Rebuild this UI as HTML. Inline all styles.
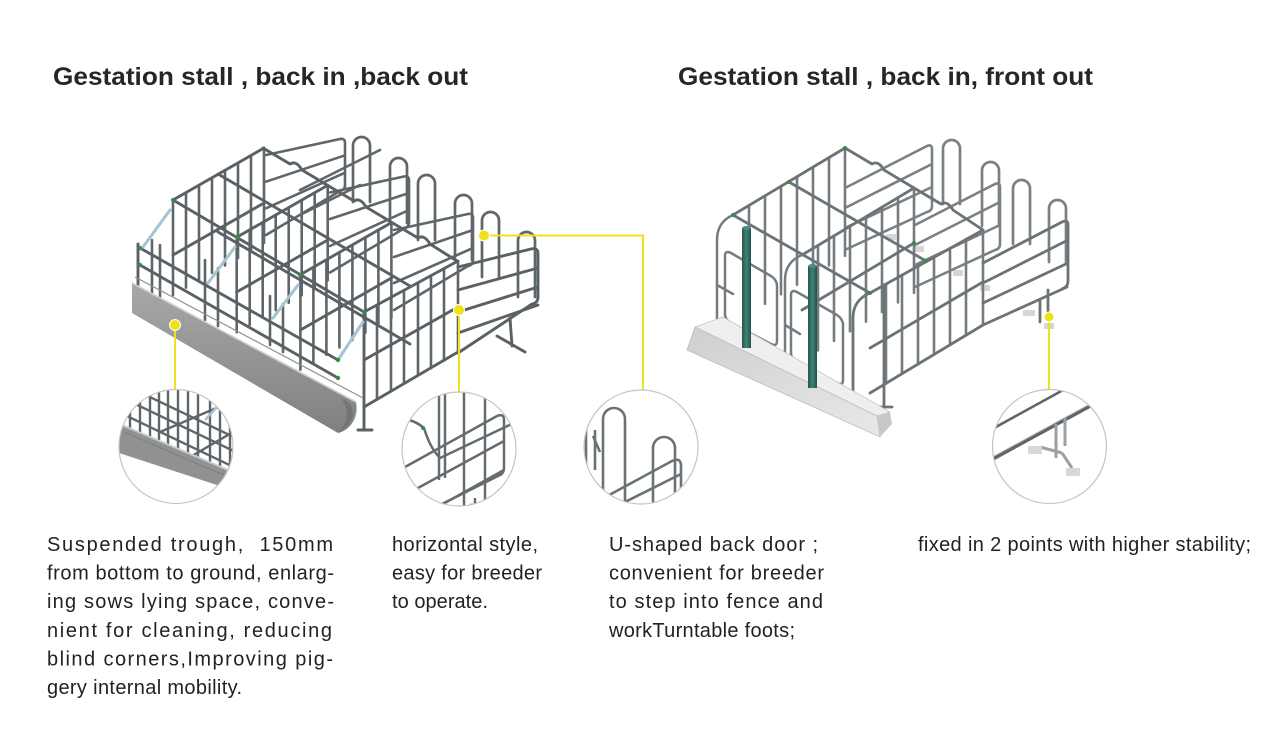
<!DOCTYPE html>
<html><head><meta charset="utf-8"><style>
html,body{margin:0;padding:0;background:#fff;}
svg{display:block;}
.t{font-family:"Liberation Sans",Arial,sans-serif;font-size:20px;fill:#222;white-space:pre;}
.h{font-family:"Liberation Sans",Arial,sans-serif;font-size:25px;font-weight:bold;fill:#262626;white-space:pre;}
</style></head><body>
<svg width="1280" height="752" viewBox="0 0 1280 752" xmlns="http://www.w3.org/2000/svg">
<defs>
<linearGradient id="tg1" x1="0" y1="0" x2="0" y2="1"><stop offset="0" stop-color="#a6a8aa"/><stop offset="1" stop-color="#7e8082"/></linearGradient>
<linearGradient id="tg2" x1="0" y1="0" x2="1" y2="1"><stop offset="0" stop-color="#cfcfcf"/><stop offset="1" stop-color="#e8e8e8"/></linearGradient>
<linearGradient id="gp" x1="0" y1="0" x2="1" y2="0"><stop offset="0" stop-color="#25564f"/><stop offset="0.5" stop-color="#3f8276"/><stop offset="1" stop-color="#23524b"/></linearGradient>
<clipPath id="c1"><circle cx="176" cy="446.5" r="57"/></clipPath>
<clipPath id="c2"><circle cx="459" cy="449" r="57"/></clipPath>
<clipPath id="c3"><circle cx="641" cy="447" r="57"/></clipPath>
<clipPath id="c4"><circle cx="1049.5" cy="446.5" r="57"/></clipPath>
</defs>
<rect width="1280" height="752" fill="#fff"/>

<!-- Titles -->
<text class="h" x="53" y="85" textLength="415" lengthAdjust="spacingAndGlyphs">Gestation stall , back in ,back out</text>
<text class="h" x="678" y="85" textLength="415" lengthAdjust="spacingAndGlyphs">Gestation stall , back in, front out</text>

<!-- ================= LEFT STALL ================= -->
<g fill="none" stroke-linecap="round" stroke-linejoin="round">
<!-- rear gates -->
<g stroke="#5f666a" stroke-width="2.6">
<path d="M266,155L340,139Q345,138 345,143V185Q345,190 340,191L266,235M266,181.7L345,155.3M266,208.3L345,172.7"/>
<path d="M330,192.5L404,176.5Q409,175.5 409,180.5V222Q409,227.5 404,228.5L330,272.5M330,219L409,193M330,246L409,210"/>
<path d="M394,230L468,214Q473,213 473,218V260Q473,265 468,266L394,310M394,257L473,230M394,283L473,248"/>
<path d="M300,190L380,150M300,215L360,185"/>
</g>
<!-- U doors -->
<g stroke="#60676b" stroke-width="2.7">
<path d="M353,202V145.5A8.5,8.5 0 0 1 370,145.5V202"/>
<path d="M390,223V166.5A8.5,8.5 0 0 1 407,166.5V223"/>
<path d="M418,240V183.5A8.5,8.5 0 0 1 435,183.5V240"/>
<path d="M455,260V203.5A8.5,8.5 0 0 1 472,203.5V260"/>
<path d="M482,277V220.5A8.5,8.5 0 0 1 499,220.5V277"/>
<path d="M518,297V240.5A8.5,8.5 0 0 1 535,240.5V297"/>
</g>
<!-- divider bars -->
<g stroke="#5f666a" stroke-width="2.6">
<path d="M173,200V295M186,192.6V287.6M199,185.2V280.2M212,177.8V272.8M225,170.4V265.4M238,163V258M251,155.6V250.6M264,148V243"/>
<path d="M236.7,237.3V332.3M249.7,229.9V324.9M262.7,222.5V317.5M275.7,215.1V310.1M288.7,207.7V302.7M301.7,200.3V295.3M314.7,192.9V287.9M327.7,185.3V280.3"/>
<path d="M300.4,274.6V369.6M313.4,267.2V362.2M326.4,259.8V354.8M339.4,252.4V347.4M352.4,245V340M365.4,237.6V332.6M378.4,230.2V325.2M391.4,222.6V317.6"/>
<path d="M377,305V399.3M391,297.7V391.2M404,290.6V383.5M418,283V375M431,276V368M444,269V360.5M458,261V352"/>
<path d="M152,240V300M160,245V303M205,260V320M218,268V326M270,296V345M283,304V352"/>
</g>
<!-- rails -->
<g stroke="#5a6165" stroke-width="2.9">
<path d="M173,200L364,312M218,174L410,286M263,148L290,164Q296,160 302,170L327,185L354,201Q360,197 366,207L391,222L418,238Q424,234 430,244L457,261"/>
<path d="M173,200L264,148M236.7,237.3L327.7,185.3M300.4,274.6L391.4,222.6M364,312L458,261"/>
<path d="M173,255L264,203M236.7,292L327.7,240M300.4,330L391.4,278"/>
<path d="M140,248L338,360M140,265L338,378M218,232L410,344"/>
<path d="M364,407L458,352M364,360L458,307"/>
<path d="M138,244V285M364,312V430M358,430H372"/>
<!-- right rear gate -->
<path d="M458,267L531,249Q538,247 538,254V297Q538,303 532,304L458,353M458,290L538,268M458,312L538,287M458,333L538,305"/>
<path d="M510,318L512,346M497,336L525,352"/>
</g>
<!-- struts -->
<g stroke="#a6c3d2" stroke-width="3">
<path d="M143,247L170,210M208,283L235,247M273,318L298,285M338,360L363,322"/>
</g>
</g>
<g fill="#3a8a48">
<circle cx="140" cy="248" r="2.2"/><circle cx="140" cy="265" r="2.2"/><circle cx="338" cy="360" r="2.2"/><circle cx="338" cy="378" r="2.2"/><circle cx="364" cy="312" r="2"/><circle cx="300" cy="275" r="2"/><circle cx="237" cy="237" r="2"/><circle cx="173" cy="200" r="2"/>
</g>
<!-- left trough -->
<path d="M132,283L356,402C359,418 350,430 338,433L132,313Z" fill="url(#tg1)"/>
<path d="M341,398C356,404 358,420 340,432L338,433C348,424 350,410 341,398Z" fill="#727476"/>
<path d="M132,283L356,402" stroke="#cfd0d1" stroke-width="1.6" fill="none"/>
<path d="M135,277L363,398" stroke="#8e9092" stroke-width="1.2" fill="none"/>

<!-- ================= RIGHT STALL ================= -->
<g fill="none" stroke-linecap="round" stroke-linejoin="round">
<!-- pads -->
<g fill="#d6d6d6" stroke="none">
<rect x="886" y="234" width="10" height="6"/><rect x="914" y="246" width="10" height="6"/><rect x="953" y="270" width="10" height="6"/><rect x="980" y="285" width="10" height="6"/><rect x="1023" y="310" width="12" height="6"/><rect x="1044" y="323" width="10" height="6"/>
</g>
<!-- rear gates -->
<g stroke="#7a8185" stroke-width="2.6">
<path d="M847,187L927,146Q932,144 932,149V206Q932,211 927,212L847,249M847,207L932,164M847,227L932,187"/>
<path d="M915,225L995,184Q1000,182 1000,187V244Q1000,249 995,250L915,287M915,245L1000,202M915,265L1000,225"/>
</g>
<!-- U doors -->
<g stroke="#7a8185" stroke-width="2.7">
<path d="M943,204V148.5A8.5,8.5 0 0 1 960,148.5V204"/>
<path d="M982,226V170.5A8.5,8.5 0 0 1 999,170.5V226"/>
<path d="M1013,244V188.5A8.5,8.5 0 0 1 1030,188.5V244"/>
<path d="M1049,262V208.5A8.5,8.5 0 0 1 1066,208.5V262"/>
</g>
<!-- divider bars -->
<g stroke="#757c80" stroke-width="2.6">
<path d="M749,205.4V313.4M765,195.8V303.8M781,186.2V294.2M797,176.6V284.6M813,167V275M829,157.4V265.4M845,147.8V255.8"/>
<path d="M818,245.4V350.4M834,235.8V340.8M850,226.2V331.2M866,216.6V321.6M882,207V312M898,197.4V302.4M914,187.8V292.8"/>
<path d="M886,284V383.4M902,275V373.8M918,266V364.2M934,257V354.6M950,248V345M966,239V335.4M983,230V325"/>
</g>
<!-- rails -->
<g stroke="#6c7377" stroke-width="2.8">
<path d="M733,215L870,293M789,182L926,261M845,148L872,164Q878,160 884,170L914,188L941,204Q947,200 953,210L983,230"/>
<path d="M733,215L845,148M802,255L914,188M870,293L983,230"/>
<path d="M802,310L914,243M870,348L983,282"/>
<path d="M870,393L983,325L1067,287"/>
<path d="M983,263L1062,222Q1068,219 1068,225V281Q1068,287 1062,289M983,283L1068,240M983,303L1068,263"/>
<path d="M884,285V407M878,407H892M870,293Q853,300 853,318V398Q853,410 862,404"/>
<path d="M1040,300V322M1048,290V318"/>
</g>
<!-- front gates -->
<g stroke="#757c80" stroke-width="2.5">
<path d="M733,215Q717,222 717,240V320L785,360"/>
<path d="M725,256Q725,250 731,253L771,276Q777,280 777,286V341Q777,347 771,344L731,323Q725,320 725,314Z"/>
<path d="M802,255Q785,262 785,280V358L845,392"/>
<path d="M791,295Q791,289 797,292L837,315Q843,319 843,325V380Q843,386 837,383L797,362Q791,359 791,353Z"/>
<path d="M717,285L733,294M785,325L800,334"/>
</g>
</g>
<g fill="#3a8a48">
<circle cx="733" cy="215" r="2"/><circle cx="789" cy="182" r="2"/><circle cx="845" cy="148" r="2"/><circle cx="870" cy="293" r="2"/><circle cx="914" cy="243" r="2"/><circle cx="926" cy="261" r="2"/>
</g>
<!-- right trough -->
<path d="M695,327L723,317L890,412L877,416Z" fill="#efefef" stroke="#c4c4c4" stroke-width="0.8"/>
<path d="M695,327L877,416L880,437L687,350Z" fill="url(#tg2)" stroke="#bdbdbd" stroke-width="0.8"/>
<path d="M877,416L890,412L892,424L880,437Z" fill="#c8c8c8"/>
<!-- green posts -->
<rect x="742" y="228" width="9" height="120" fill="url(#gp)"/>
<ellipse cx="746.5" cy="228" rx="4.5" ry="2" fill="#4a8c80"/>
<rect x="808" y="266" width="9" height="122" fill="url(#gp)"/>
<ellipse cx="812.5" cy="266" rx="4.5" ry="2" fill="#4a8c80"/>

<!-- ================= CONNECTORS ================= -->
<g stroke="#f0e21a" stroke-width="2" fill="none">
<path d="M175,325V390"/>
<path d="M459,310V392"/>
<path d="M484,235.5H643V390"/>
<path d="M1049,317V390"/>
</g>
<g fill="#f0e21a" stroke="#fff" stroke-width="1">
<circle cx="175" cy="325" r="5.5"/>
<circle cx="459" cy="310" r="5.5"/>
<circle cx="484" cy="235.5" r="5.5"/>
<circle cx="1049" cy="317" r="5"/>
</g>

<!-- ================= CIRCLES ================= -->
<!-- circle 1 -->
<circle cx="176" cy="446.5" r="57" fill="#fff"/>
<g clip-path="url(#c1)" fill="none">
<g stroke="#5f666a" stroke-width="2.4">
<path d="M130,385V430M140,385V434M150,385V440M159,385V444M168,385V448M178,385V452M188,385V456M198,385V461M210,385V466M220,385V470M230,385V474"/>
<path d="M110,392L240,454M110,408L240,470M110,378L240,440"/>
<path d="M160,432L240,398M185,460L240,428"/>
</g>
<path d="M205,420L228,395" stroke="#a6c3d2" stroke-width="2.5"/>
<path d="M110,420L228,470L220,486L110,450Z" fill="#8f9193"/>
<path d="M110,420L228,470" stroke="#c9cacb" stroke-width="2"/>
<path d="M110,426L226,476" stroke="#7c7e80" stroke-width="1"/>
</g>
<circle cx="176" cy="446.5" r="57" fill="none" stroke="#c4c4c4" stroke-width="1.2"/>

<!-- circle 2 -->
<circle cx="459" cy="449" r="57" fill="#fff"/>
<g clip-path="url(#c2)" fill="none" stroke="#656c70" stroke-width="2.5">
<path d="M439,392V480M445,392V478M464,392V515M485,392V515"/>
<path d="M396,472L497,416Q504,413 504,420V468Q504,474 498,476L420,515"/>
<path d="M396,500L504,441M400,528L504,470"/>
<path d="M400,418Q415,420 424,428Q430,448 440,458L520,420"/>
<path d="M470,505H490M475,498V510"/>
</g>
<circle cx="423" cy="428" r="2" fill="#3a8a48"/>
<circle cx="459" cy="449" r="57" fill="none" stroke="#c4c4c4" stroke-width="1.2"/>

<!-- circle 3 -->
<circle cx="641" cy="447" r="57" fill="#fff"/>
<g clip-path="url(#c3)" fill="none" stroke="#6b7276" stroke-width="2.6">
<path d="M603,515V419A11,11 0 0 1 625,419V515"/>
<path d="M653,515V448A11,11 0 0 1 675,448V515"/>
<path d="M600,500L672,461Q681,457 681,466V515"/>
<path d="M605,512L681,474"/>
<path d="M586,420V510M595,430V470M593,436L600,452"/>
</g>
<circle cx="641" cy="447" r="57" fill="none" stroke="#c4c4c4" stroke-width="1.2"/>

<!-- circle 4 -->
<circle cx="1049.5" cy="446.5" r="57" fill="#fff"/>
<g clip-path="url(#c4)" fill="none">
<path d="M985,433L1085,378" stroke="#5f666a" stroke-width="2.6"/>
<path d="M985,463L1110,395" stroke="#5f666a" stroke-width="4"/>
<path d="M985,461L1110,393" stroke="#b9bec1" stroke-width="1"/>
<g stroke="#9aa0a3" stroke-width="3">
<path d="M1056,424V458M1065,418V446M1040,447L1062,453M1062,453L1072,468"/>
</g>
<rect x="1028" y="446" width="14" height="8" fill="#d8d8d8"/>
<rect x="1066" y="468" width="14" height="8" fill="#d8d8d8"/>
</g>
<circle cx="1049.5" cy="446.5" r="57" fill="none" stroke="#c4c4c4" stroke-width="1.2"/>

<!-- ================= TEXT ================= -->
<text class="t" x="47" y="551" textLength="286" lengthAdjust="spacing">Suspended trough,  150mm</text>
<text class="t" x="47" y="579.6" textLength="287" lengthAdjust="spacing">from bottom to ground, enlarg-</text>
<text class="t" x="47" y="608.2" textLength="287" lengthAdjust="spacing">ing sows lying space, conve-</text>
<text class="t" x="47" y="636.8" textLength="285" lengthAdjust="spacing">nient for cleaning, reducing</text>
<text class="t" x="47" y="665.4" textLength="286" lengthAdjust="spacing">blind corners,Improving pig-</text>
<text class="t" x="47" y="694" textLength="195" lengthAdjust="spacing">gery internal mobility.</text>

<text class="t" x="392" y="551" textLength="146" lengthAdjust="spacing">horizontal style,</text>
<text class="t" x="392" y="579.6" textLength="150" lengthAdjust="spacing">easy for breeder</text>
<text class="t" x="392" y="608.2" textLength="96" lengthAdjust="spacing">to operate.</text>

<text class="t" x="609" y="551" textLength="209" lengthAdjust="spacing">U-shaped back door ;</text>
<text class="t" x="609" y="579.6" textLength="215" lengthAdjust="spacing">convenient for breeder</text>
<text class="t" x="609" y="608.2" textLength="214" lengthAdjust="spacing">to step into fence and</text>
<text class="t" x="609" y="636.8" textLength="186" lengthAdjust="spacing">workTurntable foots;</text>

<text class="t" x="918" y="551" textLength="333" lengthAdjust="spacing">fixed in 2 points with higher stability;</text>
</svg>
</body></html>
